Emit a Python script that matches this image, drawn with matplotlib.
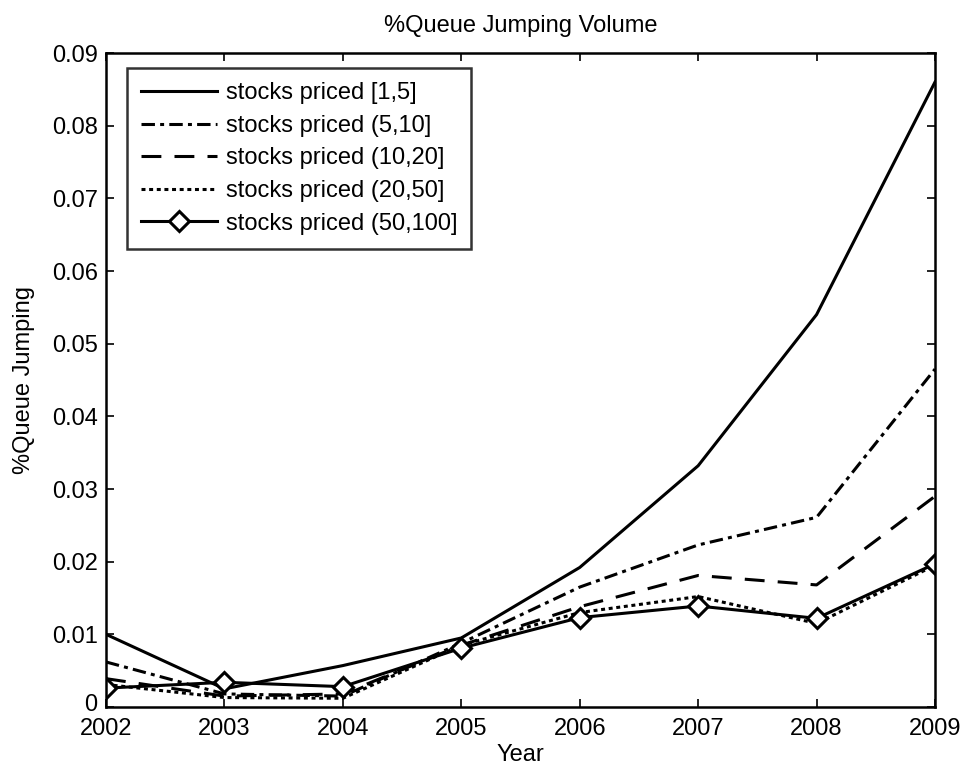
import matplotlib
matplotlib.use("Agg")
import matplotlib.pyplot as plt
from matplotlib.transforms import ScaledTranslation

plt.rcParams['font.family'] = ['Liberation Sans', 'DejaVu Sans']

years = [2002, 2003, 2004, 2005, 2006, 2007, 2008, 2009]
s_1_5 = [0.0100, 0.0025, 0.0057, 0.0095, 0.0192, 0.0332, 0.0540, 0.0860]
s_5_10 = [0.0062, 0.0018, 0.0015, 0.0088, 0.0165, 0.0223, 0.0261, 0.0465]
s_10_20 = [0.0039, 0.0015, 0.0018, 0.0085, 0.0138, 0.0181, 0.0168, 0.0290]
s_20_50 = [0.0031, 0.0013, 0.0012, 0.0085, 0.0130, 0.0152, 0.0115, 0.0195]
s_50_100 = [0.0026, 0.0034, 0.0028, 0.0081, 0.0123, 0.0139, 0.0122, 0.0197]
labels = ['stocks priced [1,5]', 'stocks priced (5,10]', 'stocks priced (10,20]',
          'stocks priced (20,50]', 'stocks priced (50,100]']
yticks = [0, 0.01, 0.02, 0.03, 0.04, 0.05, 0.06, 0.07, 0.08, 0.09]
ytick_labels = ['0', '0.01', '0.02', '0.03', '0.04', '0.05', '0.06', '0.07', '0.08', '0.09']

W, H = 964, 772
fig = plt.figure(figsize=(W/100, H/100), dpi=100)
ax = fig.add_axes([106/W, (H-707)/H, (935-106)/W, (707-53)/H])

lw = 2.2
fs = 17
ax.plot(years, s_1_5, color='black', lw=lw, linestyle='-', label=labels[0])
ax.plot(years, s_5_10, color='black', lw=lw, linestyle=(0, (4.4, 1.7, 1.3, 1.7)), label=labels[1])
ax.plot(years, s_10_20, color='black', lw=lw, linestyle=(0, (6.5, 4.3)), label=labels[2])
ax.plot(years, s_20_50, color='black', lw=lw, linestyle=(0, (1.3, 1.2)), label=labels[3])
ax.plot(years, s_50_100, color='black', lw=lw, linestyle='-', marker='D', markersize=10,
        markerfacecolor='white', markeredgecolor='black', markeredgewidth=2.2, label=labels[4])

ax.set_xlim(2002, 2009)
ax.set_ylim(0, 0.09)
ax.set_xticks(years)
ax.set_xticklabels([str(y) for y in years])
ax.set_yticks(yticks)
ax.set_yticklabels(ytick_labels)
ax.tick_params(direction='in', top=True, right=True, labelsize=fs, length=6, width=1.2)
ax.tick_params(axis='x', pad=8)
ax.tick_params(axis='y', pad=6)
for sp in ax.spines.values():
    sp.set_linewidth(1.8)

ax.set_title('%Queue Jumping Volume', fontsize=fs, pad=15)
ax.set_xlabel('Year', fontsize=fs, labelpad=3)
ax.set_ylabel('%Queue Jumping', fontsize=fs, labelpad=12)

leg = ax.legend(loc='upper left', bbox_to_anchor=(127/W, 1 - 68/H), bbox_transform=fig.transFigure,
                borderaxespad=0, fontsize=fs, handlelength=3.2, frameon=True, fancybox=False,
                edgecolor='black', labelspacing=0.45, handletextpad=0.38, borderpad=0.6)
leg.get_frame().set_linewidth(1.8)

# nudge the "0" y tick label slightly up so it does not collide with "2002"
zero_lbl = ax.get_yticklabels()[0]
zero_lbl.set_transform(zero_lbl.get_transform() + ScaledTranslation(0, 3/72, fig.dpi_scale_trans))

fig.savefig('out.png', dpi=100)
